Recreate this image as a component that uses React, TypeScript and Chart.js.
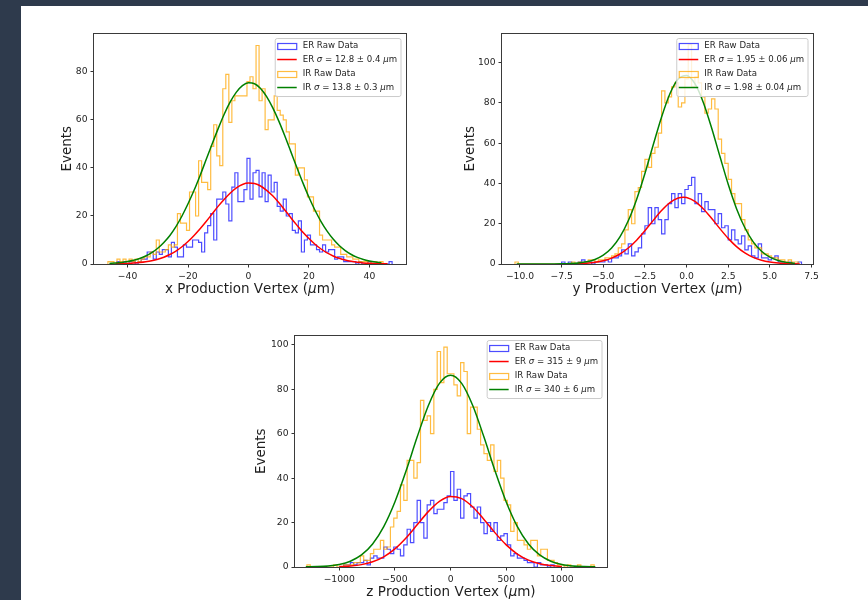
import React, { useEffect, useRef } from 'react';
import { Chart, registerables } from 'chart.js';

Chart.register(...registerables);
Chart.defaults.font.family = '"DejaVu Sans"';

// ---------------- Panel 1 : x production vertex ----------------
const xHistStart1IR = -46.5;
const xHistWidth1IR = 1;
const xCounts1IR = [1, 1, 0, 2, 1, 2, 1, 2, 1, 2, 1, 2, 3, 3, 5, 4, 10, 5, 5, 6, 8, 7, 8, 21, 17, 17, 14, 30, 30, 20, 43, 34, 34, 31, 49, 58, 45, 41, 73, 79, 59, 68, 70, 70, 70, 70, 76, 78, 73, 91, 68, 73, 56, 60, 60, 70, 64, 62, 60, 55, 50, 50, 37, 40, 40, 35, 28, 28, 22, 22, 12, 10, 10, 10, 8, 7, 7, 4, 4, 3, 3, 2, 2, 1, 1, 1, 0, 1, 1, 0, 1];
const xHistStart1ER = -43.5;
const xHistWidth1ER = 1;
const xCounts1ER = [1, 0, 1, 0, 1, 1, 0, 1, 2, 2, 5, 5, 2, 5, 4, 6, 6, 3, 9, 7, 3, 3, 8, 7, 7, 10, 10, 9, 5, 13, 16, 21, 10, 27, 27, 30, 25, 18, 32, 38, 26, 26, 31, 44, 27, 38, 39, 28, 38, 26, 37, 30, 34, 24, 22, 27, 20, 21, 14, 13, 18, 5, 10, 12, 8, 8, 6, 5, 8, 5, 6, 6, 2, 3, 3, 1, 1, 1, 1, 0, 1, 0, 0, 1, 0, 0, 0, 0, 0, 0, 1];
const xFitIRx = [-46, -44, -42, -40, -38, -36, -34, -32, -30, -28, -26, -24, -22, -20, -18, -16, -14, -12, -10, -8, -6, -4, -2, 0, 2, 4, 6, 8, 10, 12, 14, 16, 18, 20, 22, 24, 26, 28, 30, 32, 34, 36, 38, 40, 42, 44];
const xFitIRy = [0.26, 0.42, 0.66, 1.02, 1.54, 2.29, 3.32, 4.72, 6.57, 8.96, 11.9, 15.6, 20.0, 25.1, 30.7, 36.9, 43.5, 50.1, 56.5, 62.5, 67.6, 71.6, 74.3, 75.45, 75.1, 73.1, 69.7, 65.1, 59.6, 53.4, 46.8, 40.2, 33.8, 27.8, 22.4, 17.7, 13.7, 10.4, 7.7, 5.6, 3.96, 2.76, 1.88, 1.26, 0.82, 0.53];
const xFitERx = [-44, -42, -40, -38, -36, -34, -32, -30, -28, -26, -24, -22, -20, -18, -16, -14, -12, -10, -8, -6, -4, -2, 0, 2, 4, 6, 8, 10, 12, 14, 16, 18, 20, 22, 24, 26, 28, 30, 32, 34, 36, 38, 40, 42, 44, 46];
const xFitERy = [0.08, 0.14, 0.23, 0.37, 0.58, 0.89, 1.34, 1.97, 2.83, 3.95, 5.39, 7.19, 9.35, 11.9, 14.7, 17.7, 20.9, 24.1, 27.0, 29.6, 31.7, 33.1, 33.7, 33.5, 32.5, 30.7, 28.4, 25.6, 22.5, 19.3, 16.2, 13.2, 10.6, 8.22, 6.25, 4.63, 3.35, 2.37, 1.63, 1.10, 0.72, 0.46, 0.29, 0.18, 0.10, 0.06];
const xTicks1 = [-40, -20, 0, 20, 40];
const xTickLabels1 = ['−40', '−20', '0', '20', '40'];
const yTicks1 = [0, 20, 40, 60, 80];
const yTickLabels1 = ['0', '20', '40', '60', '80'];
const legend1 = ['ER Raw Data', 'ER σ = 12.8 ± 0.4 μm', 'IR Raw Data', 'IR σ = 13.8 ± 0.3 μm'];

// ---------------- Panel 2 : y production vertex ----------------
const yHistStart2IR = -10.3;
const yHistWidth2IR = 0.2;
const yCounts2IR = [1, 0, 0, 0, 0, 0, 0, 0, 0, 0, 0, 0, 0, 0, 0, 0, 0, 1, 0, 1, 0, 1, 2, 2, 1, 2, 2, 3, 3, 4, 5, 8, 10, 17, 27, 20, 36, 38, 46, 52, 48, 55, 58, 65, 86, 80, 83, 88, 90, 78, 80, 92, 109, 88, 93, 90, 83, 75, 77, 82, 77, 62, 55, 50, 42, 35, 30, 30, 22, 17, 12, 10, 8, 8, 5, 5, 4, 3, 3, 2, 2, 1, 2, 1, 1];
const yHistStart2ER = -7.5;
const yHistWidth2ER = 0.2;
const yCounts2ER = [1, 0, 1, 0, 0, 1, 2, 1, 1, 0, 1, 1, 1, 2, 1, 3, 3, 4, 7, 5, 10, 4, 6, 8, 15, 19, 28, 20, 28, 22, 15, 22, 30, 35, 28, 35, 30, 37, 39, 43, 30, 35, 26, 31, 27, 27, 20, 25, 18, 19, 12, 17, 12, 10, 14, 7, 9, 4, 3, 10, 3, 3, 2, 3, 4, 1, 1, 0, 1, 0, 0, 1];
const yFitIRx = [-10.2, -10, -9.5, -9, -8.5, -8, -7.5, -7, -6.5, -6, -5.5, -5, -4.5, -4, -3.5, -3, -2.5, -2, -1.5, -1, -0.5, 0, 0.5, 1, 1.5, 2, 2.5, 3, 3.5, 4, 4.5, 5, 5.5, 6, 6.5];
const yFitIRy = [0, 0.0003, 0.0012, 0.0038, 0.0116, 0.033, 0.0865, 0.2155, 0.503, 1.1, 2.27, 4.39, 7.94, 13.48, 21.49, 32.1, 45.0, 59.2, 73.05, 84.6, 91.9, 93.7, 89.6, 80.4, 67.7, 53.5, 39.6, 27.5, 18.0, 11.02, 6.32, 3.41, 1.72, 0.81, 0.36];
const yFitERx = [-7, -6.5, -6, -5.5, -5, -4.5, -4, -3.5, -3, -2.5, -2, -1.5, -1, -0.5, -0.2, 0, 0.5, 1, 1.5, 2, 2.5, 3, 3.5, 4, 4.5, 5, 5.5, 6, 6.5, 6.8];
const yFitERy = [0.08, 0.18, 0.4, 0.83, 1.6, 2.92, 4.97, 7.93, 11.84, 16.56, 21.68, 26.58, 30.52, 32.8, 33.2, 33.03, 31.13, 27.47, 22.7, 17.57, 12.73, 8.64, 5.49, 3.26, 1.82, 0.95, 0.46, 0.21, 0.09, 0.05];
const xTicks2 = [-10, -7.5, -5, -2.5, 0, 2.5, 5, 7.5];
const xTickLabels2 = ['−10.0', '−7.5', '−5.0', '−2.5', '0.0', '2.5', '5.0', '7.5'];
const yTicks2 = [0, 20, 40, 60, 80, 100];
const yTickLabels2 = ['0', '20', '40', '60', '80', '100'];
const legend2 = ['ER Raw Data', 'ER σ = 1.95 ± 0.06 μm', 'IR Raw Data', 'IR σ = 1.98 ± 0.04 μm'];

// ---------------- Panel 3 : z production vertex ----------------
const zHistStart3IR = -1290;
const zHistWidth3IR = 30;
const zCounts3IR = [1, 0, 0, 0, 0, 0, 0, 0, 1, 0, 0, 1, 1, 1, 2, 2, 5, 3, 3, 6, 8, 8, 12, 8, 9, 18, 22, 25, 37, 30, 48, 48, 40, 47, 75, 66, 68, 60, 80, 97, 83, 99, 87, 87, 82, 77, 92, 88, 60, 72, 72, 62, 55, 51, 48, 55, 43, 48, 40, 30, 28, 16, 20, 12, 12, 10, 8, 12, 12, 5, 8, 8, 3, 3, 2, 1, 1, 0, 1, 0, 0, 1, 0, 0, 0, 1];
const zHistStart3ER = -990;
const zHistWidth3ER = 30;
const zCounts3ER = [0, 1, 1, 2, 1, 2, 2, 3, 1, 4, 5, 4, 4, 9, 8, 6, 9, 8, 5, 10, 17, 11, 20, 30, 20, 13, 28, 30, 24, 26, 26, 29, 32, 43, 30, 35, 22, 32, 33, 27, 22, 27, 20, 15, 20, 16, 20, 12, 14, 15, 10, 5, 6, 4, 4, 3, 2, 2, 0, 2, 1, 1, 0, 1];
const zFitIRx = [-1300, -1200, -1100, -1000, -900, -800, -700, -600, -500, -400, -300, -200, -100, 0, 100, 200, 300, 400, 500, 600, 700, 800, 900, 1000, 1100, 1200, 1300];
const zFitIRy = [0.06, 0.17, 0.46, 1.14, 2.6, 5.42, 10.36, 18.19, 29.27, 43.19, 58.48, 72.59, 82.65, 86.3, 82.65, 72.59, 58.48, 43.19, 29.27, 18.19, 10.36, 5.42, 2.6, 1.14, 0.46, 0.17, 0.06];
const zFitERx = [-1000, -900, -800, -700, -600, -500, -400, -300, -200, -100, 0, 100, 200, 300, 400, 500, 600, 700, 800, 900, 1000];
const zFitERy = [0.17, 0.45, 1.07, 2.33, 4.58, 8.14, 13.07, 18.98, 24.92, 29.57, 31.74, 30.79, 27.01, 21.42, 15.36, 9.96, 5.84, 3.09, 1.48, 0.64, 0.25];
const xTicks3 = [-1000, -500, 0, 500, 1000];
const xTickLabels3 = ['−1000', '−500', '0', '500', '1000'];
const yTicks3 = [0, 20, 40, 60, 80, 100];
const yTickLabels3 = ['0', '20', '40', '60', '80', '100'];
const legend3 = ['ER Raw Data', 'ER σ = 315 ± 9 μm', 'IR Raw Data', 'IR σ = 340 ± 6 μm'];

const axisTitleY = 'Events';
const axisTitlesX = ['x Production Vertex (μm)', 'y Production Vertex (μm)', 'z Production Vertex (μm)'];

// ---------------- styling ----------------
const BLUE = 'rgba(0,0,255,0.7)';
const ORANGE = 'rgba(255,165,0,0.75)';
const RED = '#ff0000';
const GREEN = '#008000';
const TEXT = '#1e1e1e';
const DARK = '#2e3a4c';

function histPoints(start: number, width: number, counts: number[]) {
  const pts: { x: number; y: number }[] = [{ x: start, y: 0 }];
  counts.forEach((c, i) => {
    pts.push({ x: start + i * width, y: c });
    pts.push({ x: start + (i + 1) * width, y: c });
  });
  pts.push({ x: start + counts.length * width, y: 0 });
  return pts;
}
function curvePoints(xs: number[], ys: number[]) {
  return xs.map((x, i) => ({ x, y: ys[i] }));
}

// draw a string where greek letters σ, μ are rendered italic (mathtext look)
function drawMixed(ctx: CanvasRenderingContext2D, text: string, x: number, y: number, size: number, measureOnly = false) {
  let cx = x;
  for (const ch of text) {
    const it = ch === 'σ' || ch === 'μ';
    ctx.font = `${it ? 'italic ' : ''}${size}px "DejaVu Sans"`;
    if (!measureOnly) ctx.fillText(ch, cx, y);
    cx += ctx.measureText(ch).width;
  }
  return cx - x;
}

const decorPlugin = {
  id: 'mplDecor',
  afterDatasetsDraw(chart: any) {
    const o = chart.options.plugins.mplDecor;
    const { ctx, chartArea: a } = chart;
    ctx.save();
    // frame
    ctx.strokeStyle = '#3a3a3a';
    ctx.lineWidth = 1;
    ctx.strokeRect(Math.round(a.left) - 0.5, Math.round(a.top) - 0.5, Math.round(a.right - a.left) + 1, Math.round(a.bottom - a.top) + 1);

    // legend
    const fs = 8.6;
    ctx.textBaseline = 'middle';
    const widths = o.legend.map((t: string) => drawMixed(ctx, t, 0, 0, fs, true));
    const textW = Math.max(...widths);
    const boxW = 27.5 + textW + 4;
    const boxH = 58;
    const right = a.right - 5;
    const top = a.top + 5;
    const left = right - boxW;
    ctx.beginPath();
    const r = 2;
    ctx.moveTo(left + r, top);
    ctx.lineTo(right - r, top);
    ctx.quadraticCurveTo(right, top, right, top + r);
    ctx.lineTo(right, top + boxH - r);
    ctx.quadraticCurveTo(right, top + boxH, right - r, top + boxH);
    ctx.lineTo(left + r, top + boxH);
    ctx.quadraticCurveTo(left, top + boxH, left, top + boxH - r);
    ctx.lineTo(left, top + r);
    ctx.quadraticCurveTo(left, top, left + r, top);
    ctx.closePath();
    ctx.fillStyle = 'rgba(255,255,255,0.8)';
    ctx.fill();
    ctx.strokeStyle = '#cccccc';
    ctx.lineWidth = 1;
    ctx.stroke();
    const kinds = ['rect', 'line', 'rect', 'line'];
    const colors = [BLUE, RED, ORANGE, GREEN];
    o.legend.forEach((t: string, i: number) => {
      const cy = top + 7 + i * 14;
      const hx = left + 2;
      ctx.strokeStyle = colors[i];
      if (kinds[i] === 'rect') {
        ctx.lineWidth = 1.2;
        ctx.strokeRect(hx + 0.5, Math.round(cy - 3) + 0.5, 19, 6);
      } else {
        ctx.lineWidth = 1.5;
        ctx.beginPath();
        ctx.moveTo(hx, cy);
        ctx.lineTo(hx + 19.5, cy);
        ctx.stroke();
      }
      ctx.fillStyle = TEXT;
      ctx.textAlign = 'left';
      drawMixed(ctx, t, left + 27.5, cy + 0.5, fs);
    });

    // axis titles
    const ts = 13.5;
    ctx.fillStyle = TEXT;
    ctx.textBaseline = 'middle';
    ctx.textAlign = 'left';
    const w = drawMixed(ctx, o.xTitle, 0, 0, ts, true);
    drawMixed(ctx, o.xTitle, (a.left + a.right) / 2 - w / 2, a.bottom + 25, ts);
    ctx.translate(a.left - o.yTitleOffset, (a.top + a.bottom) / 2);
    ctx.rotate(-Math.PI / 2);
    ctx.font = `${ts}px "DejaVu Sans"`;
    ctx.textAlign = 'center';
    ctx.fillText(o.yTitle, 0, 0);
    ctx.restore();
  },
};

type PanelCfg = {
  box: { x: number; y: number; w: number; h: number };
  yAxisW: number;
  xAxisH: number;
  padTop: number;
  padRight: number;
  xMin: number;
  xMax: number;
  yMax: number;
  xTicks: number[];
  xLabels: string[];
  yTicks: number[];
  yLabels: string[];
  erHist: { x: number; y: number }[];
  irHist: { x: number; y: number }[];
  erFit: { x: number; y: number }[];
  irFit: { x: number; y: number }[];
  legend: string[];
  xTitle: string;
  yTitleOffset: number;
};

const panels: PanelCfg[] = [
  {
    box: { x: 40, y: 25, w: 380, h: 280 }, yAxisW: 54, xAxisH: 41, padTop: 8, padRight: 14,
    xMin: -51.1, xMax: 52.1, yMax: 96,
    xTicks: xTicks1, xLabels: xTickLabels1, yTicks: yTicks1, yLabels: yTickLabels1,
    erHist: histPoints(xHistStart1ER, xHistWidth1ER, xCounts1ER),
    irHist: histPoints(xHistStart1IR, xHistWidth1IR, xCounts1IR),
    erFit: curvePoints(xFitERx, xFitERy), irFit: curvePoints(xFitIRx, xFitIRy),
    legend: legend1, xTitle: axisTitlesX[0], yTitleOffset: 26.5,
  },
  {
    box: { x: 440, y: 25, w: 390, h: 280 }, yAxisW: 62, xAxisH: 41, padTop: 8, padRight: 17,
    xMin: -11.08, xMax: 7.59, yMax: 114.5,
    xTicks: xTicks2, xLabels: xTickLabels2, yTicks: yTicks2, yLabels: yTickLabels2,
    erHist: histPoints(yHistStart2ER, yHistWidth2ER, yCounts2ER),
    irHist: histPoints(yHistStart2IR, yHistWidth2IR, yCounts2IR),
    erFit: curvePoints(yFitERx, yFitERy), irFit: curvePoints(yFitIRx, yFitIRy),
    legend: legend2, xTitle: axisTitlesX[1], yTitleOffset: 32,
  },
  {
    box: { x: 235, y: 327, w: 390, h: 273 }, yAxisW: 60, xAxisH: 33, padTop: 8, padRight: 18,
    xMin: -1397, xMax: 1405, yMax: 104.2,
    xTicks: xTicks3, xLabels: xTickLabels3, yTicks: yTicks3, yLabels: yTickLabels3,
    erHist: histPoints(zHistStart3ER, zHistWidth3ER, zCounts3ER),
    irHist: histPoints(zHistStart3IR, zHistWidth3IR, zCounts3IR),
    erFit: curvePoints(zFitERx, zFitERy), irFit: curvePoints(zFitIRx, zFitIRy),
    legend: legend3, xTitle: axisTitlesX[2], yTitleOffset: 33.3,
  },
];

function Panel({ cfg }: { cfg: PanelCfg }) {
  const ref = useRef<HTMLCanvasElement>(null);
  useEffect(() => {
    const tickFont = { size: 9.2, family: '"DejaVu Sans"' };
    const grid = { display: true, drawOnChartArea: false, drawTicks: true, tickLength: 3.5, color: '#333', lineWidth: 1 };
    const chart = new Chart(ref.current as HTMLCanvasElement, {
      type: 'scatter',
      data: {
        datasets: [
          { label: 'irFit', data: cfg.irFit, showLine: true, borderColor: GREEN, borderWidth: 1.5, pointRadius: 0, cubicInterpolationMode: 'monotone', order: 0, fill: false } as any,
          { label: 'erFit', data: cfg.erFit, showLine: true, borderColor: RED, borderWidth: 1.5, pointRadius: 0, cubicInterpolationMode: 'monotone', order: 1, fill: false } as any,
          { label: 'irHist', data: cfg.irHist, showLine: true, borderColor: ORANGE, borderWidth: 1.2, pointRadius: 0, tension: 0, order: 2, fill: false } as any,
          { label: 'erHist', data: cfg.erHist, showLine: true, borderColor: BLUE, borderWidth: 1.2, pointRadius: 0, tension: 0, order: 3, fill: false } as any,
        ],
      },
      options: {
        responsive: false,
        animation: false,
        events: [],
        layout: { padding: { top: cfg.padTop, right: cfg.padRight, left: 0, bottom: 0 } },
        plugins: {
          legend: { display: false },
          tooltip: { enabled: false },
          mplDecor: { legend: cfg.legend, xTitle: cfg.xTitle, yTitle: axisTitleY, yTitleOffset: cfg.yTitleOffset },
        } as any,
        scales: {
          x: {
            type: 'linear', min: cfg.xMin, max: cfg.xMax,
            afterBuildTicks: (ax: any) => { ax.ticks = cfg.xTicks.map((v) => ({ value: v })); },
            afterFit: (ax: any) => { ax.height = cfg.xAxisH; },
            ticks: { autoSkip: false, maxRotation: 0, minRotation: 0, padding: 4, color: TEXT, font: tickFont, callback: (_v: any, i: number) => cfg.xLabels[i] },
            grid, border: { display: false }, title: { display: false },
          },
          y: {
            type: 'linear', min: 0, max: cfg.yMax,
            afterBuildTicks: (ax: any) => { ax.ticks = cfg.yTicks.map((v) => ({ value: v })); },
            afterFit: (ax: any) => { ax.width = cfg.yAxisW; },
            ticks: { autoSkip: false, padding: 3, color: TEXT, font: tickFont, callback: (_v: any, i: number) => cfg.yLabels[i] },
            grid, border: { display: false }, title: { display: false },
          },
        } as any,
      },
      plugins: [decorPlugin as any],
    });
    return () => chart.destroy();
  }, [cfg]);
  return (
    <canvas
      ref={ref}
      width={cfg.box.w}
      height={cfg.box.h}
      style={{ position: 'absolute', left: cfg.box.x, top: cfg.box.y, width: cfg.box.w, height: cfg.box.h }}
    />
  );
}

export default function App() {
  return (
    <div style={{ position: 'fixed', left: 0, top: 0, width: 868, height: 600, background: DARK, overflow: 'hidden' }}>
      <div style={{ position: 'absolute', left: 21, top: 6, right: 0, bottom: 0, background: '#ffffff' }} />
      {panels.map((p, i) => (
        <Panel key={i} cfg={p} />
      ))}
    </div>
  );
}
